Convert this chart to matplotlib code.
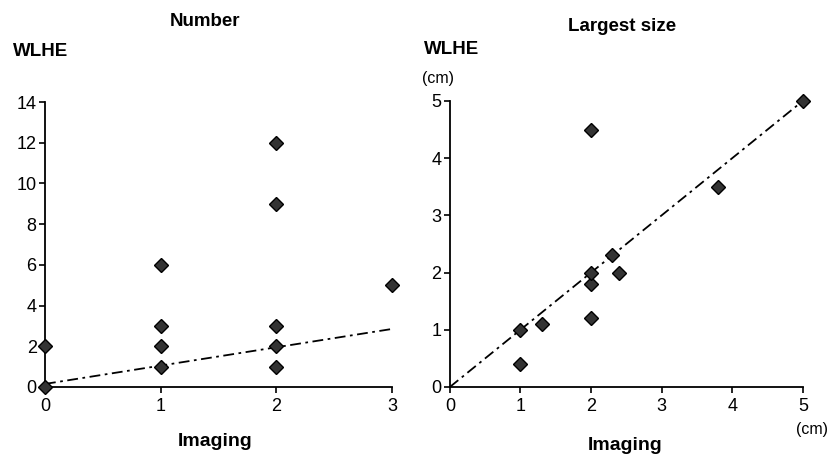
import matplotlib.pyplot as plt

plt.rcParams['font.family'] = ['Liberation Sans', 'DejaVu Sans']

# Number panel
num_x = [0, 0, 1, 1, 1, 1, 2, 2, 2, 2, 2, 3]
num_y = [0, 2, 1, 2, 3, 6, 1, 2, 3, 9, 12, 5]
num_fit_x = [0, 3]
num_fit_y = [0.15, 2.85]

# Largest size panel
size_x = [1, 1, 1.3, 2, 2, 2, 2, 2.3, 2.4, 3.8, 5]
size_y = [0.4, 1, 1.1, 1.2, 1.8, 2, 4.5, 2.3, 2, 3.5, 5]
size_fit_x = [0, 5]
size_fit_y = [0, 5]

fig = plt.figure(figsize=(8.3, 4.57), dpi=100)
ax1 = fig.add_axes([0.0542, 0.1532, 0.418, 0.6236])
ax2 = fig.add_axes([0.542, 0.1532, 0.4253, 0.626])

mk = dict(marker='D', markersize=7, color='#333333', markeredgecolor='black',
          markeredgewidth=1, linestyle='none', clip_on=False, zorder=3)
fit = dict(color='black', lw=1.3, dashes=(6, 2.5, 1.5, 2.5), zorder=2)

ax1.plot(num_fit_x, num_fit_y, **fit)
ax1.plot(num_x, num_y, **mk)
ax1.set_xlim(0, 3)
ax1.set_ylim(0, 14)
ax1.set_xticks([0, 1, 2, 3])
ax1.set_yticks(range(0, 15, 2))

ax2.plot(size_fit_x, size_fit_y, **fit)
ax2.plot(size_x, size_y, **mk)
ax2.set_xlim(0, 5)
ax2.set_ylim(0, 5)
ax2.set_xticks(range(6))
ax2.set_yticks(range(6))

for ax in (ax1, ax2):
    for s in ('top', 'right'):
        ax.spines[s].set_visible(False)
    for s in ('left', 'bottom'):
        ax.spines[s].set_linewidth(1.3)
    ax.tick_params(direction='out', length=4, width=1.2, labelsize=13)
    ax.tick_params(axis='x', pad=4)
    ax.tick_params(axis='y', pad=2)

fig.text(0.247, 0.952, 'Number', ha='center', va='center', fontsize=13.5, fontweight='bold')
fig.text(0.016, 0.887, 'WLHE', ha='left', va='center', fontsize=13.5, fontweight='bold')
fig.text(0.259, 0.035, 'Imaging', ha='center', va='center', fontsize=14, fontweight='bold')

fig.text(0.75, 0.941, 'Largest size', ha='center', va='center', fontsize=13.5, fontweight='bold')
fig.text(0.511, 0.891, 'WLHE', ha='left', va='center', fontsize=13.5, fontweight='bold')
fig.text(0.509, 0.829, '(cm)', ha='left', va='center', fontsize=11.5)
fig.text(0.753, 0.026, 'Imaging', ha='center', va='center', fontsize=14, fontweight='bold')
fig.text(0.978, 0.061, '(cm)', ha='center', va='center', fontsize=11.5)

fig.savefig('out.png', dpi=100)
